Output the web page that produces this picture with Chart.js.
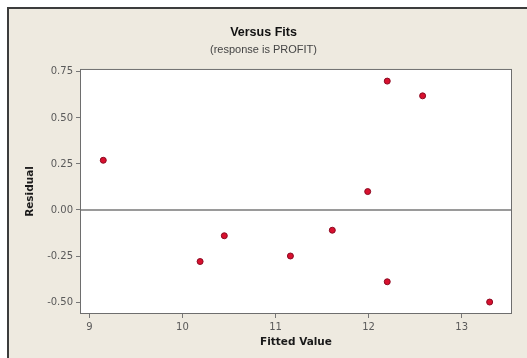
<!DOCTYPE html>
<html>
<head>
<meta charset="utf-8">
<script src="https://cdn.jsdelivr.net/npm/chart.js@4.4.1/dist/chart.umd.min.js"></script>
<style>
  html, body { margin: 0; padding: 0; background: #ffffff; overflow: hidden; }
  #wrap { width: 527px; height: 358px; }
</style>
</head>
<body>
<div id="wrap"><canvas id="c" width="527" height="358"></canvas></div>
<script>
// Residuals versus fitted values for the PROFIT regression
const fittedValues = [9.15, 10.19, 10.45, 11.16, 11.61, 11.99, 12.20, 12.20, 12.58, 13.30];
const residuals    = [0.27, -0.28, -0.14, -0.25, -0.11, 0.10, 0.70, -0.39, 0.62, -0.50];
const xTicks = [9, 10, 11, 12, 13];
const yTicks = [-0.50, -0.25, 0.00, 0.25, 0.50, 0.75];
const referenceLine = 0;

const points = fittedValues.map((x, i) => ({ x: x, y: residuals[i] }));

const GRAPH_BG = '#eeeae0';
const TICK_COLOR = '#5a5a5a';

// Figure background, dark frame, white data region, zero reference and region outline
const framePlugin = {
  id: 'minitabFrame',
  beforeDraw(chart) {
    const { ctx, width, height, chartArea: a } = chart;
    ctx.save();
    ctx.fillStyle = '#ffffff';
    ctx.fillRect(0, 0, width, height);
    ctx.fillStyle = GRAPH_BG;
    ctx.fillRect(8, 8, width - 8, height - 8);
    ctx.fillStyle = '#3c3c3c';
    ctx.fillRect(7, 7, width - 7, 2);
    ctx.fillRect(7, 7, 2, height - 7);
    ctx.fillStyle = '#ffffff';
    ctx.fillRect(a.left, a.top, a.right - a.left, a.bottom - a.top);
    ctx.restore();
  },
  beforeDatasetsDraw(chart) {
    const { ctx, chartArea: a, scales } = chart;
    const y0 = scales.y.getPixelForValue(referenceLine);
    ctx.save();
    ctx.strokeStyle = '#9a9a9a';
    ctx.lineWidth = 2;
    ctx.beginPath();
    ctx.moveTo(a.left, y0);
    ctx.lineTo(a.right, y0);
    ctx.stroke();
    ctx.strokeStyle = '#6e6e6e';
    ctx.lineWidth = 1;
    ctx.strokeRect(a.left + 0.5, a.top + 0.5, a.right - a.left - 1, a.bottom - a.top - 1);
    ctx.restore();
  }
};

new Chart(document.getElementById('c'), {
  type: 'scatter',
  data: {
    datasets: [{
      data: points,
      backgroundColor: '#d8102e',
      borderColor: '#8c0a22',
      borderWidth: 1,
      pointRadius: 3,
      pointHoverRadius: 3
    }]
  },
  options: {
    responsive: false,
    animation: false,
    devicePixelRatio: 1,
    layout: { padding: 0 },
    plugins: {
      legend: { display: false },
      tooltip: { enabled: false },
      title: {
        display: true,
        text: 'Versus Fits',
        color: '#111111',
        font: { family: 'Liberation Sans', size: 12.5, weight: 'bold', lineHeight: 1.1 },
        padding: { top: 26, bottom: 0 }
      },
      subtitle: {
        display: true,
        text: '(response is PROFIT)',
        color: '#444444',
        font: { family: 'Liberation Sans', size: 11, lineHeight: 1.2 },
        padding: { top: 4, bottom: 12 }
      }
    },
    scales: {
      x: {
        type: 'linear',
        min: 8.9,
        max: 13.54,
        afterBuildTicks: s => { s.ticks = xTicks.map(v => ({ value: v })); },
        afterFit: s => { s.height = 44; },
        grid: { drawOnChartArea: false, drawTicks: true, tickLength: 4, color: '#777777' },
        border: { display: false },
        ticks: {
          color: TICK_COLOR,
          padding: 3,
          font: { family: 'DejaVu Sans', size: 10 },
          callback: v => String(v)
        },
        title: {
          display: true,
          text: 'Fitted Value',
          color: '#1a1a1a',
          font: { family: 'DejaVu Sans', size: 10.5, weight: 'bold', lineHeight: 1.2 },
          padding: { top: 0, bottom: 9 }
        }
      },
      y: {
        type: 'linear',
        position: 'left',
        min: -0.565,
        max: 0.766,
        afterBuildTicks: s => { s.ticks = yTicks.map(v => ({ value: v })); },
        afterFit: s => { s.width = 80; },
        grid: { drawOnChartArea: false, drawTicks: true, tickLength: 4, color: '#777777' },
        border: { display: false },
        ticks: {
          color: TICK_COLOR,
          padding: 3,
          font: { family: 'DejaVu Sans', size: 10 },
          callback: v => v.toFixed(2)
        },
        title: {
          display: true,
          text: 'Residual',
          color: '#1a1a1a',
          font: { family: 'DejaVu Sans', size: 10.5, weight: 'bold', lineHeight: 1.2 },
          padding: { top: 24, bottom: 0 }
        }
      },
      yRight: {
        type: 'linear',
        position: 'right',
        display: true,
        afterFit: s => { s.width = 15; },
        grid: { display: false },
        border: { display: false },
        ticks: { display: false }
      }
    }
  },
  plugins: [framePlugin]
});
</script>
</body>
</html>
